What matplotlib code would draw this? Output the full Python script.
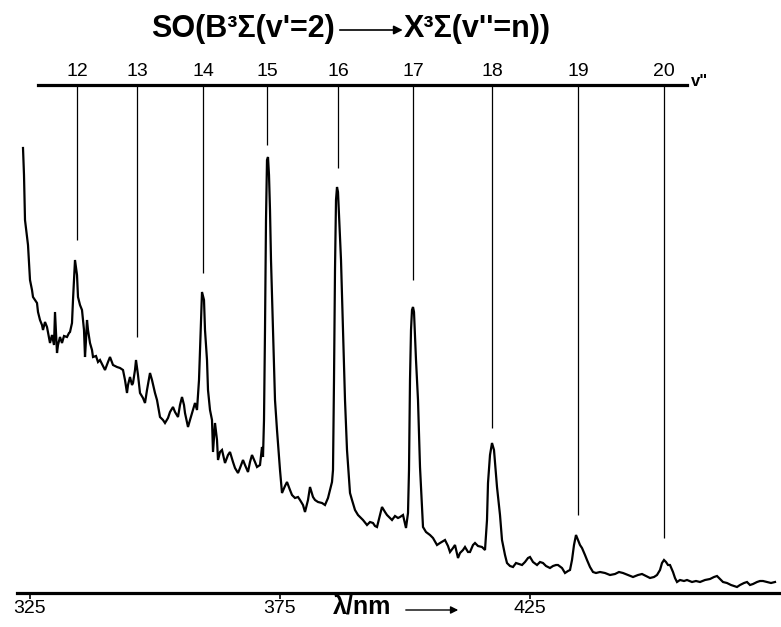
import numpy as np
import matplotlib
matplotlib.use("Agg")
import matplotlib.pyplot as plt

plt.rcParams['font.family'] = ['Liberation Sans', 'DejaVu Sans']

# emission trace, wavelength (nm) and intensity (arb. units)
wavelength = [
    323.7, 323.9, 324.1, 324.5, 324.7, 325.1, 325.5, 325.7, 326.1, 326.5, 326.7, 327.1,
    327.5, 327.7, 328.1, 328.5, 328.9, 329.1, 329.5, 329.9, 330.1, 330.5, 330.7, 331.1,
    331.5, 331.9, 332.5, 332.9, 333.1, 333.5, 333.7, 334.1, 334.5, 334.7, 335.1, 335.5,
    335.9, 336.1, 336.3, 336.5, 336.7, 337.1, 337.5, 337.7, 338.3, 338.7, 339.1, 339.7,
    340.1, 340.7, 341.1, 341.7, 342.5, 343.1, 343.7, 344.1, 344.5, 344.7, 345.1, 345.5,
    345.7, 346.1, 346.3, 346.7, 347.1, 347.7, 348.1, 348.5, 349.1, 349.5, 350.1, 350.5,
    351.1, 351.7, 352.1, 352.7, 353.1, 353.7, 354.1, 354.7, 355.1, 355.5, 355.9, 356.1,
    356.7, 357.1, 357.7, 358.1, 358.5, 358.9, 359.3, 359.5, 359.9, 360.1, 360.5, 360.7,
    361.1, 361.5, 361.7, 362.1, 362.5, 362.7, 363.1, 363.5, 364.1, 364.7, 365.1, 365.7,
    366.1, 366.7, 367.1, 367.7, 368.1, 368.7, 369.1, 369.5, 370.1, 370.5, 371.1, 371.5,
    371.7, 371.9, 372.1, 372.3, 372.5, 372.7, 372.9, 373.1, 373.3, 373.7, 374.1, 374.5,
    374.7, 375.1, 375.5, 376.1, 376.5, 377.1, 377.5, 378.1, 378.7, 379.1, 379.7, 380.1,
    380.7, 381.1, 381.7, 382.1, 382.7, 383.5, 384.1, 384.7, 385.1, 385.5, 385.7, 385.9,
    386.1, 386.3, 386.5, 386.7, 386.9, 387.3, 387.7, 388.1, 388.5, 389.1, 389.5, 390.1,
    390.7, 391.1, 391.7, 392.5, 393.1, 393.7, 394.1, 394.5, 395.1, 395.5, 396.1, 396.5,
    397.1, 397.5, 398.1, 398.7, 399.1, 399.7, 400.3, 400.7, 400.9, 401.1, 401.3, 401.5,
    401.7, 401.9, 402.1, 402.3, 402.7, 403.1, 403.7, 404.3, 405.1, 405.7, 406.5, 407.1,
    408.1, 408.7, 409.1, 409.7, 410.1, 410.7, 411.1, 411.7, 412.1, 412.7, 413.1, 413.7,
    414.1, 414.7, 415.5, 416.1, 416.5, 416.7, 417.1, 417.5, 417.9, 418.3, 418.5, 419.1,
    419.5, 420.1, 420.5, 421.1, 421.7, 422.3, 422.9, 423.5, 424.1, 424.7, 425.1, 425.7,
    426.5, 427.1, 427.7, 428.3, 429.1, 429.7, 430.3, 430.7, 431.5, 432.1, 432.7, 433.1,
    433.5, 433.9, 434.3, 434.7, 435.1, 435.5, 436.1, 436.5, 437.1, 437.7, 438.3, 439.1,
    440.1, 441.1, 442.1, 442.9, 443.7, 444.7, 445.7, 446.7, 447.5, 448.3, 449.1, 449.9,
    450.5, 451.1, 451.5, 451.9, 452.3, 452.7, 453.1, 453.7, 454.1, 454.5, 455.1, 455.9,
    456.5, 457.5, 458.3, 459.1, 460.1, 461.1, 461.9, 462.5, 463.1, 463.7, 464.5, 465.3,
    465.9, 466.5, 467.1, 467.9, 468.5, 469.1, 469.7, 470.5, 471.1, 471.7, 472.5, 473.3,
    474.1,
]
intensity = [
    445, 418, 373, 356, 348, 313, 303, 296, 293, 290, 281, 273,
    268, 263, 271, 266, 255, 250, 258, 248, 281, 240, 248, 256,
    250, 257, 256, 260, 261, 270, 293, 333, 318, 296, 288, 283,
    263, 236, 253, 273, 263, 250, 243, 236, 237, 231, 233, 227,
    223, 231, 236, 228, 226, 225, 223, 213, 200, 208, 216, 208,
    210, 223, 233, 218, 200, 195, 190, 203, 220, 213, 200, 193,
    176, 173, 170, 175, 181, 186, 181, 176, 188, 196, 188, 180,
    166, 173, 183, 190, 183, 213, 273, 301, 293, 263, 233, 203,
    183, 173, 141, 170, 153, 133, 141, 143, 130, 138, 141, 131,
    125, 120, 125, 133, 128, 121, 131, 138, 131, 126, 128, 146,
    136, 173, 263, 373, 433, 436, 418, 383, 333, 263, 193, 163,
    150, 123, 100, 107, 111, 103, 98, 95, 96, 93, 88, 81,
    93, 106, 96, 93, 91, 90, 88, 95, 103, 111, 123, 213,
    323, 393, 406, 401, 378, 333, 263, 193, 143, 100, 93, 83,
    78, 76, 73, 68, 71, 70, 67, 66, 78, 86, 81, 78,
    75, 73, 77, 75, 76, 78, 65, 80, 123, 213, 263, 283,
    286, 281, 258, 233, 193, 126, 66, 61, 58, 55, 48, 50,
    53, 47, 41, 45, 48, 35, 40, 43, 46, 41, 41, 48,
    50, 47, 46, 43, 73, 110, 138, 150, 143, 118, 106, 78,
    53, 38, 30, 27, 26, 30, 29, 28, 31, 35, 36, 31,
    28, 31, 30, 27, 25, 27, 28, 28, 25, 20, 22, 23,
    33, 48, 58, 53, 48, 45, 38, 33, 26, 21, 20, 21,
    20, 18, 19, 21, 20, 18, 16, 18, 19, 17, 15, 16,
    18, 23, 30, 33, 31, 28, 28, 21, 15, 11, 13, 12,
    13, 11, 12, 11, 13, 14, 16, 17, 14, 11, 10, 8,
    7, 6, 8, 10, 11, 8, 9, 11, 12, 12, 11, 10,
    11,
]

# SO B(v'=2) -> X(v'') band assignments
band_v = [12, 13, 14, 15, 16, 17, 18, 19, 20]
band_nm = [334.5, 346.5, 359.7, 372.5, 386.7, 401.7, 417.5, 434.7, 451.9]
band_line_end = [353, 256, 320, 448, 425, 313, 165, 78, 55]

x_ticks = [325, 375, 425]

fig = plt.figure(figsize=(7.81, 6.27), dpi=100)
ax = fig.add_axes([0, 0, 1, 1])
ax.set_xlim(319.1, 475.3)
ax.set_ylim(-34, 593)

ax.plot(wavelength, intensity, color='black', lw=1.6, solid_joinstyle='miter')

# assignment comb
top_level = 508
ax.vlines(band_nm, band_line_end, top_level, color='black', lw=0.9)
for v, nm in zip(band_v, band_nm):
    ax.text(nm, 521, str(v), ha='center', va='center', fontsize=14)
ax.text(457.3, 512, 'v"', ha='left', va='center', fontsize=12, fontweight='bold')

for s in ['left', 'right']:
    ax.spines[s].set_visible(False)
ax.spines['top'].set_position(('data', top_level))
ax.spines['top'].set_bounds(326.7, 456.5)
ax.spines['top'].set_linewidth(2.3)
ax.spines['bottom'].set_position(('data', 0))
ax.spines['bottom'].set_bounds(322.5, 475.3)
ax.spines['bottom'].set_linewidth(2.3)

ax.set_yticks([])
ax.set_xticks(x_ticks)
ax.tick_params(axis='x', direction='out', length=4, width=1.2, pad=1, labelsize=14)

# title with a long transition arrow
ax.text(386.1, 564, "SO(B³Σ(v'=2)", ha='right', va='center',
        fontsize=22, fontweight='bold')
ax.annotate('', xy=(400.2, 563), xytext=(386.5, 563),
            arrowprops=dict(arrowstyle='-|>', color='black', lw=1.2,
                            mutation_scale=13))
ax.text(399.9, 564, "X³Σ(v''=n))", ha='left', va='center',
        fontsize=22, fontweight='bold')

ax.text(391.6, -14, 'λ/nm', ha='center', va='center', fontsize=18, fontweight='bold')
ax.annotate('', xy=(411.3, -17), xytext=(399.7, -17),
            arrowprops=dict(arrowstyle='-|>', color='black', lw=1.0,
                            mutation_scale=11))

fig.savefig('out.png', dpi=100)
